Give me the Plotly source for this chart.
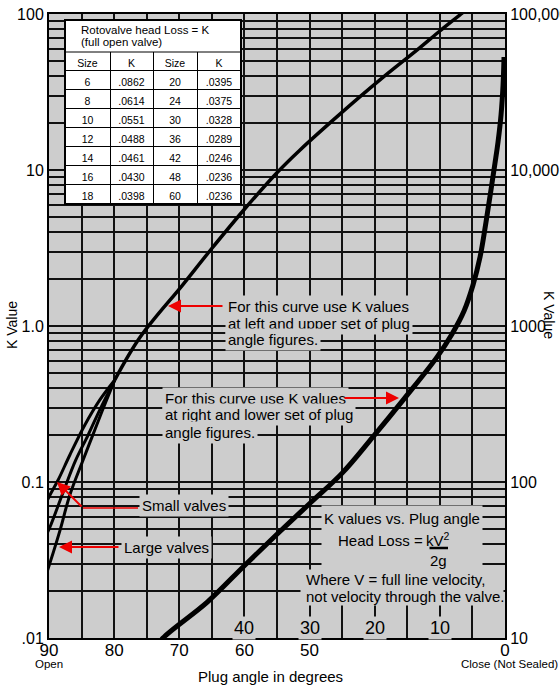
import plotly.graph_objects as go

# ---------------- data ----------------
# Curve read with K on the LEFT axis and the UPPER set of plug-angle figures
UPPER_ANGLE = [5.4, 6.75, 10.0, 13.1, 19.2, 25.3, 31.5, 34.9, 40.1, 45.2, 49.5, 56.0, 59.9]
UPPER_K = [111.7, 100, 77.8, 60.6, 37.8, 22.9, 13.4, 9.71, 5.54, 3.07, 1.83, 0.849, 0.451]

# lower-left branches of the same curve (valve sizes)
SMALL_ANGLE = [59.9, 62.2, 64.5, 66.8, 68.6, 69.85, 70.6]
SMALL_K = [0.451, 0.336, 0.232, 0.149, 0.103, 0.0826, 0.0713]
MID_ANGLE = [59.9, 62.2, 64.0, 65.9, 67.7, 69.85, 70.6]
MID_K = [0.451, 0.290, 0.200, 0.138, 0.0889, 0.0515, 0.0444]
LARGE_ANGLE = [59.9, 61.9, 63.4, 64.9, 66.8, 68.3, 69.85, 70.6]
LARGE_K = [0.451, 0.281, 0.194, 0.134, 0.0826, 0.0492, 0.0303, 0.0243]

# Curve read with K on the RIGHT axis and the LOWER set of plug-angle figures
LOWER_ANGLE = [73.3, 72.5, 65.7, 59.9, 54.8, 49.9, 45.0, 40.3, 35.4, 30.44,
               28.13, 26.29, 24.91, 23.83, 22.91, 22.15, 21.53, 21.07, 20.61, 20.3, 20.15]
LOWER_K = [8.9, 10, 17.0, 29.4, 47.1, 73.3, 114, 194, 345, 632,
           889, 1248, 1832, 2767, 4645, 7447, 11090, 15110, 22520, 35060, 53000]

# table of full-open K values
SIZES_A = [6, 8, 10, 12, 14, 16, 18]
K_A = [0.0862, 0.0614, 0.0551, 0.0488, 0.0461, 0.0430, 0.0398]
SIZES_B = [20, 24, 30, 36, 42, 48, 60]
K_B = [0.0395, 0.0375, 0.0328, 0.0289, 0.0246, 0.0236, 0.0236]
TABLE_HEADER = ["Size", "K", "Size", "K"]

# tick labels
LOWER_TICKS = [90, 80, 70, 60, 50, 20]
LOWER_TICK_TEXT = ["90", "80", "70", "60", "50", "0"]
UPPER_TICKS = [40, 30, 20, 10]
UPPER_GRID = list(range(70, -1, -5))
LEFT_TICKS = [0.01, 0.1, 1, 10, 100]
LEFT_TICK_TEXT = [".01", "0.1", "1.0", "10", "100"]
RIGHT_TICKS = [10, 100, 1000, 10000, 100000]
RIGHT_TICK_TEXT = ["10", "100", "1000", "10,000", "100,000"]
LEFT_MINOR = [m * 10.0 ** e for e in range(-2, 2) for m in range(2, 10)]

# ---------------- styling / layout helpers ----------------
W, H = 560, 687
ML, MR, MT, MB = 49, 55, 14, 49
PW, PH = W - ML - MR, H - MT - MB
BG = "#cdcdcd"
GRID = "#111111"
GW = 1.5
RED = "#ee0000"
FONT = "Liberation Sans, Arial, sans-serif"


def px(x):
    return (x - ML) / PW


def py(y):
    return (H - MB - y) / PH


fig = go.Figure()

line_common = dict(mode="lines", showlegend=False, hoverinfo="skip")
fig.add_trace(go.Scatter(x=UPPER_ANGLE, y=UPPER_K, xaxis="x", yaxis="y",
                         line=dict(color="black", width=3.5, shape="spline"), **line_common))
for xa, ya in [(SMALL_ANGLE, SMALL_K), (MID_ANGLE, MID_K), (LARGE_ANGLE, LARGE_K)]:
    fig.add_trace(go.Scatter(x=xa, y=ya, xaxis="x", yaxis="y",
                             line=dict(color="black", width=3, shape="spline"), **line_common))
fig.add_trace(go.Scatter(x=LOWER_ANGLE, y=LOWER_K, xaxis="x2", yaxis="y2",
                         line=dict(color="black", width=5, shape="spline"), **line_common))

# table
fig.add_trace(go.Table(
    domain=dict(x=[px(65), px(241)], y=[py(204), py(51)]),
    columnwidth=[45, 43, 44, 44],
    header=dict(values=TABLE_HEADER, height=19, align="center",
                fill_color="white", line=dict(color="black", width=1),
                font=dict(family=FONT, size=10.5, color="black")),
    cells=dict(values=[SIZES_A, [f"{v:.4f}".lstrip("0") for v in K_A],
                       SIZES_B, [f"{v:.4f}".lstrip("0") for v in K_B]],
               height=19, align="center", fill_color="white",
               line=dict(color="black", width=1),
               font=dict(family=FONT, size=10.5, color="black")),
))

axis_line = dict(showline=True, linecolor="black", linewidth=2, zeroline=False, automargin=False)
fig.update_layout(
    width=W, height=H,
    margin=dict(l=ML, r=MR, t=MT, b=MB, autoexpand=False),
    paper_bgcolor="white", plot_bgcolor=BG,
    showlegend=False,
    # upper set of plug-angle figures (scale for the left-K curve); draws the vertical grid
    xaxis=dict(range=[70, 0], tickmode="array", tickvals=UPPER_GRID, showticklabels=False,
               showgrid=True, gridcolor=GRID, gridwidth=GW, ticks="", mirror=True, **axis_line),
    # lower set of plug-angle figures (scale for the right-K curve)
    xaxis2=dict(range=[90, 20], overlaying="x", anchor="y", side="bottom",
                tickmode="array", tickvals=LOWER_TICKS, ticktext=LOWER_TICK_TEXT,
                showgrid=False, ticks="", zeroline=False, showline=False, automargin=False,
                tickfont=dict(family=FONT, size=17, color="black")),
    yaxis=dict(type="log", range=[-2, 2], tickmode="array", tickvals=LEFT_TICKS, ticktext=LEFT_TICK_TEXT,
               showgrid=True, gridcolor=GRID, gridwidth=GW, ticks="",
               minor=dict(tickmode="array", tickvals=LEFT_MINOR, showgrid=True,
                          gridcolor=GRID, gridwidth=GW, ticks=""),
               mirror=True, tickfont=dict(family=FONT, size=16, color="black"),
               **axis_line),
    yaxis2=dict(type="log", range=[1, 5], overlaying="y", side="right", anchor="x",
                tickmode="array", tickvals=RIGHT_TICKS, ticktext=RIGHT_TICK_TEXT,
                showgrid=False, ticks="",
                tickfont=dict(family=FONT, size=16, color="black"), **axis_line),
)

shapes = []
annotations = []


def text(x, y, s, size=15, xanchor="left", yanchor="middle", bg=None, angle=0, pad=1):
    d = dict(x=px(x), y=py(y), xref="paper", yref="paper", text=s, showarrow=False,
             xanchor=xanchor, yanchor=yanchor, textangle=angle, borderpad=pad,
             font=dict(family=FONT, size=size, color="black"))
    if bg:
        d["bgcolor"] = bg
    annotations.append(d)


def arrow(tail, tip, color=RED, head=2, width=2):
    annotations.append(dict(x=px(tip[0]), y=py(tip[1]), xref="paper", yref="paper",
                            ax=tail[0] - tip[0], ay=tail[1] - tip[1], text="", showarrow=True,
                            arrowhead=head, arrowsize=1.3, arrowwidth=width, arrowcolor=color,
                            standoff=0))


def panel(x0, y0, x1, y1):
    # grey backing panel behind a block of notes (hides the grid lines)
    annotations.append(dict(x=px((x0 + x1) / 2), y=py((y0 + y1) / 2), xref="paper", yref="paper",
                            text=" ", showarrow=False, xanchor="center", yanchor="middle",
                            width=x1 - x0, height=y1 - y0, borderpad=0, bgcolor=BG,
                            font=dict(family=FONT, size=10, color=BG)))


# note for the upper curve
for i, s in enumerate(["For this curve use K values", "at left and upper set of plug", "angle figures."]):
    text(225, 306 + 17 * i, s, bg=BG, pad=2)
arrow((224, 306), (168, 306))

# note for the lower curve
for i, s in enumerate(["For this curve use K values", "at right and lower set of plug", "angle figures."]):
    text(162, 398 + 17 * i, s, bg=BG, pad=2)
arrow((343, 398), (399, 398))

# valve size notes
text(139, 505, "Small valves", bg=BG, pad=2)
shapes.append(dict(type="line", xref="paper", yref="paper", x0=px(83), x1=px(138),
                   y0=py(508), y1=py(508), line=dict(color=RED, width=1.5)))
arrow((83, 508), (57, 482))
text(121, 547, "Large valves", bg=BG, pad=2)
arrow((120, 547), (59, 547))

# head loss block
panel(322, 506, 482, 571)
panel(301, 570, 503, 605)
text(402, 518, "K values vs. Plug angle", xanchor="center")
text(425, 540, "Head Loss =", xanchor="right")
text(438, 539, "kV<sup>2</sup>", xanchor="center")
arrow((428, 548), (448, 548), color="black", head=0, width=2.5)   # fraction bar
text(438, 560, "2g", xanchor="center")
text(304, 579, "Where V = full line velocity,")
text(304, 596, "not velocity through the valve.")

# upper set of plug angle figures (inside plot, bottom)
for v in UPPER_TICKS:
    annotations.append(dict(x=v, y=py(628), xref="x", yref="paper", text=str(v), showarrow=False,
                            xanchor="center", yanchor="middle", bgcolor=BG, borderpad=1,
                            font=dict(family=FONT, size=18, color="black")))

# table title box
shapes.append(dict(type="rect", xref="paper", yref="paper", x0=px(65), x1=px(241),
                   y0=py(52), y1=py(20), layer="above", fillcolor="white",
                   line=dict(color="black", width=1)))
text(79, 30, "Rotovalve head Loss = K", size=11.5)
text(79, 42, "(full open valve)", size=11.5)
shapes.append(dict(type="rect", xref="paper", yref="paper", x0=px(65), x1=px(241),
                   y0=py(204), y1=py(20), layer="above", line=dict(color="black", width=2)))

# axis titles and extra labels
text(12, 325, "K Value", size=14, xanchor="center", angle=-90)
text(549, 315, "K Value", size=14, xanchor="center", angle=90)
text(270, 676, "Plug angle in degrees", size=15, xanchor="center")
text(49, 664, "Open", size=11.5, xanchor="center")
text(560, 664, "Close (Not Sealed)", size=11.5, xanchor="right")

fig.update_layout(shapes=shapes, annotations=annotations)
fig.write_html("out.html", config={"displayModeBar": False},
               post_script="document.body.style.margin='0';document.body.style.overflow='hidden';")
